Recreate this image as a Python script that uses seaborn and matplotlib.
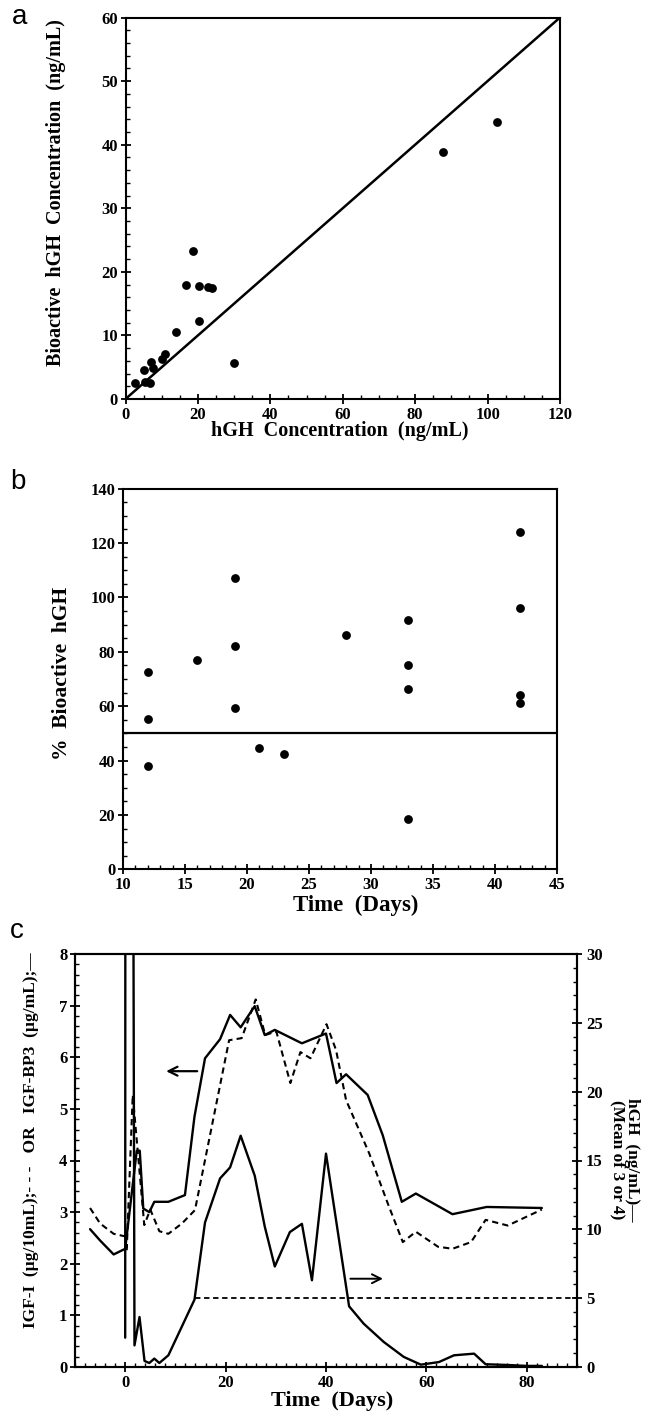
import matplotlib
matplotlib.use("Agg")
import matplotlib.pyplot as plt
import seaborn as sns
import pandas as pd
from matplotlib.ticker import MultipleLocator

# ---------------- data ----------------
# Panel a: hGH concentration vs bioactive hGH concentration
a_hgh = [2.7, 5.0, 5.5, 6.8, 7.0, 7.5, 10.0, 10.8, 14.0, 16.7, 18.7, 20.4, 20.3,
         22.7, 24.0, 29.9, 87.6, 102.7]
a_bio = [2.5, 4.6, 2.7, 2.5, 5.8, 4.8, 6.3, 7.0, 10.6, 18.0, 23.2, 17.8, 12.2,
         17.6, 17.4, 5.6, 38.9, 43.6]
a_line_x = [0, 120]
a_line_y = [0, 60]

# Panel b: % bioactive hGH vs time
b_day = [12, 12, 12, 16, 19, 19, 19, 21, 23, 28, 33, 33, 33, 33, 42, 42, 42, 42]
b_pct = [72.5, 55.2, 38.1, 76.9, 107.0, 82.1, 59.5, 44.5, 42.5, 86.3, 91.7, 75.2,
         66.4, 18.5, 124.1, 96.2, 64.0, 61.3]
b_ref_x = [10, 45]
b_ref_y = [50, 50]

# Panel c: IGF-BP3 (solid, left), IGF-I (dashed, left), hGH (solid, right)
c_bp3_day = [-7, -5, -2.3, 0, 2.3, 2.9, 3.6, 4.8, 5.8, 8.6, 11.9, 13.8, 15.9, 18.9,
             20.9, 23.0, 25.8, 27.8, 29.8, 35.2, 40.0, 42.1, 44.0, 48.3, 51.3, 55.1,
             57.9, 65.2, 72, 83]
c_bp3 = [2.67, 2.45, 2.18, 2.29, 4.19, 4.19, 3.07, 3.0, 3.2, 3.2, 3.33, 4.85, 5.98,
         6.35, 6.82, 6.58, 6.99, 6.43, 6.53, 6.27, 6.46, 5.5, 5.67, 5.27, 4.49, 3.2,
         3.36, 2.96, 3.1, 3.08]

c_igf_day = [-7, -5, -2.3, 0, 0.3, 1.5, 3.8, 5.0, 6.8, 8.6, 11.3, 13.9, 20.7, 23.2,
             26.0, 27.9, 30.1, 32.9, 34.9, 36.9, 40.1, 42.0, 44.0, 48.6, 52.3, 55.3,
             57.9, 62.3, 65.2, 68.9, 71.8, 76.2, 83.0]
c_igf = [3.08, 2.78, 2.58, 2.53, 2.25, 5.27, 2.75, 3.05, 2.63, 2.58, 2.78, 3.04,
         6.33, 6.37, 7.12, 6.43, 6.5, 5.5, 6.1, 5.98, 6.64, 6.14, 5.17, 4.14, 3.17,
         2.42, 2.62, 2.33, 2.29, 2.42, 2.85, 2.74, 3.05]

c_hgh_day = [0, 0.05, 1.45, 1.85, 2.85, 3.85, 4.8, 5.8, 6.8, 8.6, 13.8, 15.9, 18.9,
             20.9, 23.0, 25.8, 27.8, 29.8, 32.8, 35.2, 37.2, 40.0, 44.6, 47.5, 51.5,
             55.5, 58.9, 62.5, 65.5, 69.5, 71.8, 76, 80, 83]
c_hgh = [2.13, 60, 60, 1.57, 3.63, 0.44, 0.29, 0.61, 0.29, 0.85, 4.89, 10.5, 13.7,
         14.5, 16.8, 13.9, 10.2, 7.3, 9.8, 10.4, 6.3, 15.5, 4.41, 3.15, 1.82, 0.73,
         0.17, 0.36, 0.85, 0.97, 0.2, 0.15, 0.08, 0.08]
c_thr_day = [14, 90]
c_thr = [5, 5]

# ---------------- style ----------------
sns.set_theme(style="ticks")
plt.rcParams['font.family'] = ['Liberation Serif', 'DejaVu Serif']
plt.rcParams['font.weight'] = 'bold'
plt.rcParams['axes.linewidth'] = 1.5
plt.rcParams['axes.edgecolor'] = 'black'
plt.rcParams['xtick.color'] = 'black'
plt.rcParams['ytick.color'] = 'black'
plt.rcParams['text.color'] = 'black'

TICK_FS = 12


def style_axis(ax, xmaj, xmin, ymaj, ymin):
    ax.xaxis.set_major_locator(MultipleLocator(xmaj))
    ax.xaxis.set_minor_locator(MultipleLocator(xmin))
    ax.yaxis.set_major_locator(MultipleLocator(ymaj))
    ax.yaxis.set_minor_locator(MultipleLocator(ymin))
    ax.tick_params(which='major', direction='inout', length=7, width=1.3,
                   labelsize=TICK_FS, pad=2)
    ax.tick_params(which='minor', direction='in', length=3, width=1.0)
    for sp in ax.spines.values():
        sp.set_visible(True)
        sp.set_linewidth(1.5)
        sp.set_color('black')
    ax.set_xlabel('')
    ax.set_ylabel('')
    for lab in ax.get_xticklabels() + ax.get_yticklabels():
        lab.set_fontweight('bold')


W, H = 645, 1412
fig = plt.figure(figsize=(W / 100, H / 100), dpi=100)


def box(left, top, right, bottom):
    return [left / W, 1 - bottom / H, (right - left) / W, (bottom - top) / H]


# ---------------- panel a ----------------
axA = fig.add_axes(box(125.5, 17.5, 560, 399))
sns.lineplot(x=a_line_x, y=a_line_y, ax=axA, color='black', linewidth=1.8,
             estimator=None, sort=False)
sns.scatterplot(x=a_hgh, y=a_bio, ax=axA, color='black', s=40, linewidth=0,
                zorder=3)
axA.set_xlim(0, 120)
axA.set_ylim(0, 60)
style_axis(axA, 20, 5, 10, 2)
fig.text(340 / W, 1 - 431 / H, 'hGH  Concentration  (ng/mL)', ha='center',
         va='center', fontsize=14.5, fontweight='bold')
fig.text(56 / W, 1 - 193 / H, 'Bioactive  hGH  Concentration  (ng/mL)',
         ha='center', va='center', rotation=90, fontsize=14.5,
         fontweight='bold')
fig.text(12 / W, 1 - 17 / H, 'a', ha='left', va='center', fontsize=20,
         fontweight='normal', family='Liberation Sans')

# ---------------- panel b ----------------
axB = fig.add_axes(box(123, 488.7, 557, 869.3))
sns.lineplot(x=b_ref_x, y=b_ref_y, ax=axB, color='black', linewidth=1.6,
             estimator=None, sort=False)
sns.scatterplot(x=b_day, y=b_pct, ax=axB, color='black', s=40, linewidth=0,
                zorder=3)
axB.set_xlim(10, 45)
axB.set_ylim(0, 140)
style_axis(axB, 5, 1, 20, 5)
fig.text(356 / W, 1 - 905 / H, 'Time  (Days)', ha='center', va='center',
         fontsize=16.5, fontweight='bold')
fig.text(62 / W, 1 - 673 / H, '%  Bioactive  hGH', ha='center', va='center',
         rotation=90, fontsize=15.5, fontweight='bold')
fig.text(10 / W, 1 - 482 / H, 'b', ha='left', va='center', fontsize=20,
         fontweight='normal', family='Liberation Sans')

# ---------------- panel c ----------------
axC = fig.add_axes(box(75, 954, 577, 1367))
axR = axC.twinx()
sns.lineplot(x=c_bp3_day, y=c_bp3, ax=axC, color='black', linewidth=1.7,
             estimator=None, sort=False)
sns.lineplot(x=c_igf_day, y=c_igf, ax=axC, color='black', linewidth=1.5,
             estimator=None, sort=False, linestyle=(0, (3, 2)))
sns.lineplot(x=c_hgh_day, y=c_hgh, ax=axR, color='black', linewidth=1.7,
             estimator=None, sort=False)
sns.lineplot(x=c_thr_day, y=c_thr, ax=axR, color='black', linewidth=1.3,
             estimator=None, sort=False, linestyle=(0, (3, 2)))
axC.set_xlim(-10, 90)
axC.set_ylim(0, 8)
axR.set_ylim(0, 30)
style_axis(axC, 20, 2, 1, 0.2)
axR.yaxis.set_major_locator(MultipleLocator(5))
axR.yaxis.set_minor_locator(MultipleLocator(1))
axR.tick_params(which='major', direction='inout', length=7, width=1.3,
                labelsize=TICK_FS, pad=3)
axR.tick_params(which='minor', direction='in', length=3, width=1.0)
axR.set_ylabel('')
for lab in axR.get_yticklabels():
    lab.set_fontweight('bold')
for sp in axR.spines.values():
    sp.set_linewidth(1.5)
    sp.set_color('black')

# arrows indicating axes
axC.annotate('', xy=(7.6, 5.73), xytext=(14.9, 5.73),
             arrowprops=dict(arrowstyle='->', lw=1.6, color='black',
                             mutation_scale=16))
axC.annotate('', xy=(51.9, 1.71), xytext=(44.3, 1.71),
             arrowprops=dict(arrowstyle='->', lw=1.4, color='black',
                             mutation_scale=16))

fig.text(332 / W, 1 - 1401 / H, 'Time  (Days)', ha='center', va='center',
         fontsize=16, fontweight='bold')
fig.text(31 / W, 1 - 1140 / H,
         'IGF-I  (\u00b5g/10mL);- - -   OR   IGF-BP3  (\u00b5g/mL);\u2014',
         ha='center', va='center', rotation=90, fontsize=12.5,
         fontweight='bold')
fig.text(625 / W, 1 - 1160 / H, 'hGH  (ng/mL)\u2014\n(Mean of 3 or 4)',
         ha='center', va='center', rotation=270, fontsize=12.5,
         fontweight='bold', linespacing=0.9)
fig.text(10 / W, 1 - 931 / H, 'c', ha='left', va='center', fontsize=20,
         fontweight='normal', family='Liberation Sans')

fig.savefig('out.png', dpi=100)
